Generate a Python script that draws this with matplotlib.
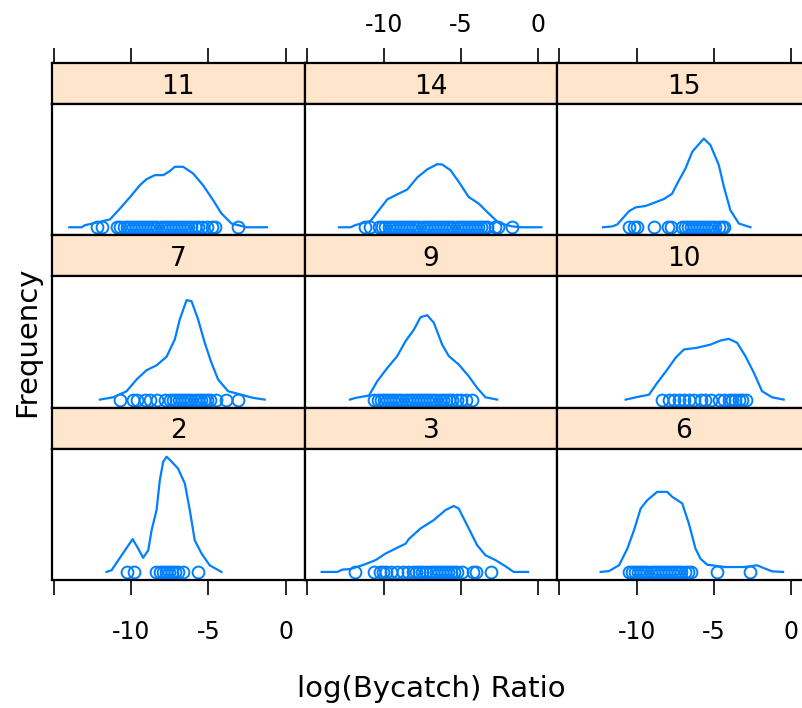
import matplotlib
matplotlib.use("Agg")
import matplotlib.pyplot as plt

# panel order: top row first (lattice draws bottom-up, so 2,3,6 sit at the bottom)
panel_names = ["11", "14", "15", "7", "9", "10", "2", "3", "6"]

# density curves
x_11 = [-14.01, -13.21, -13.0, -11.38, -10.73, -10.09, -9.44, -9.01, -8.47, -7.93, -7.5, -7.18, -6.64, -6.0, -5.35, -4.70, -4.16, -3.51, -2.54, -1.21]
d_11 = [0, 0, 0.007, 0.027, 0.065, 0.104, 0.146, 0.167, 0.181, 0.181, 0.195, 0.210, 0.210, 0.187, 0.146, 0.094, 0.048, 0.013, 0, 0]
x_14 = [-12.91, -12.16, -11.83, -10.86, -10.33, -9.78, -9.14, -8.49, -7.84, -7.20, -6.55, -6.23, -5.69, -5.16, -4.51, -3.86, -3.22, -2.57, -1.70, -1.06, 0.19]
d_14 = [0, 0, 0.008, 0.022, 0.059, 0.097, 0.114, 0.131, 0.173, 0.201, 0.219, 0.218, 0.198, 0.158, 0.105, 0.082, 0.048, 0.015, 0.003, 0, 0]
x_15 = [-12.18, -11.57, -11.25, -10.49, -10.07, -9.42, -8.77, -8.23, -7.70, -7.37, -6.84, -6.40, -6.08, -5.65, -5.22, -4.68, -4.35, -3.93, -3.38, -2.63]
d_15 = [0, 0.003, 0.010, 0.056, 0.069, 0.074, 0.087, 0.098, 0.117, 0.152, 0.204, 0.262, 0.282, 0.308, 0.285, 0.216, 0.140, 0.059, 0.013, 0]
x_7 = [-12.03, -11.17, -10.30, -9.65, -9.01, -8.36, -7.71, -7.18, -6.86, -6.42, -6.10, -5.67, -5.24, -4.81, -4.38, -3.73, -2.87, -2.12, -1.36]
d_7 = [0, 0.008, 0.029, 0.070, 0.102, 0.119, 0.149, 0.209, 0.278, 0.345, 0.342, 0.278, 0.197, 0.128, 0.070, 0.029, 0.017, 0.006, 0]
x_9 = [-12.2, -11.83, -10.97, -10.43, -9.78, -9.14, -8.60, -8.06, -7.63, -7.20, -6.77, -6.23, -5.80, -5.16, -4.51, -3.97, -3.43, -2.67]
d_9 = [0, 0.006, 0.014, 0.064, 0.110, 0.151, 0.203, 0.243, 0.286, 0.293, 0.267, 0.191, 0.151, 0.122, 0.081, 0.041, 0.008, 0]
x_10 = [-10.71, -9.96, -9.20, -8.67, -8.02, -7.48, -6.94, -6.08, -5.22, -4.57, -4.03, -3.49, -2.96, -2.41, -1.88, -1.23, -0.48]
d_10 = [0, 0.009, 0.017, 0.058, 0.104, 0.145, 0.174, 0.180, 0.191, 0.205, 0.211, 0.197, 0.151, 0.093, 0.029, 0.008, 0]
x_2 = [-11.6, -11.27, -10.62, -9.91, -9.55, -9.23, -8.90, -8.68, -8.36, -8.15, -7.93, -7.71, -7.39, -6.97, -6.53, -6.21, -5.89, -5.45, -4.92, -4.16]
d_2 = [0, 0.006, 0.058, 0.114, 0.081, 0.049, 0.075, 0.145, 0.215, 0.319, 0.383, 0.400, 0.383, 0.359, 0.307, 0.215, 0.110, 0.064, 0.023, 0]
x_3 = [-14.03, -13.02, -12.69, -12.16, -11.30, -10.54, -9.89, -9.25, -8.60, -8.39, -7.63, -6.77, -6.01, -5.48, -5.16, -4.51, -3.97, -3.43, -2.78, -2.14, -1.60, -0.67]
d_3 = [0, 0, 0.008, 0.010, 0.025, 0.041, 0.064, 0.081, 0.098, 0.114, 0.151, 0.180, 0.215, 0.229, 0.220, 0.151, 0.093, 0.058, 0.041, 0.020, 0, 0]
x_6 = [-12.33, -11.79, -11.14, -10.60, -10.17, -9.74, -9.31, -8.67, -8.02, -7.70, -7.05, -6.62, -6.19, -5.87, -5.43, -4.25, -3.06, -2.20, -1.66, -1.23, -0.52]
d_6 = [0, 0.003, 0.023, 0.081, 0.145, 0.220, 0.249, 0.278, 0.278, 0.261, 0.238, 0.168, 0.081, 0.046, 0.025, 0.017, 0.017, 0.023, 0.011, 0.002, 0]

# raw observations (rug of open circles)
pts_11 = [-12.2, -11.9, -10.9, -10.7, -10.5, -10.3, -10.1, -9.9, -9.7, -9.5, -9.3, -9.1, -8.9, -8.7, -8.5, -8.3, -8.1, -7.9, -7.7, -7.5, -7.3, -7.1, -6.9, -6.7, -6.5, -6.3, -6.1, -5.9, -5.7, -5.4, -5.1, -4.8, -4.6, -3.1]
pts_14 = [-11.2, -10.9, -10.3, -10.1, -9.9, -9.7, -9.5, -9.3, -9.1, -8.9, -8.7, -8.5, -8.3, -8.1, -7.9, -7.7, -7.5, -7.3, -7.1, -6.9, -6.7, -6.5, -6.3, -6.1, -5.9, -5.7, -5.5, -5.3, -5.1, -4.9, -4.7, -4.5, -4.3, -4.1, -3.9, -3.7, -3.5, -3.3, -2.8, -2.6, -1.7]
pts_15 = [-10.5, -10.2, -9.95, -8.9, -8.0, -7.8, -7.05, -6.9, -6.7, -6.5, -6.3, -6.1, -5.9, -5.7, -5.5, -5.3, -5.1, -4.9, -4.7, -4.5, -4.35]
pts_7 = [-10.7, -9.9, -9.65, -9.1, -8.8, -8.35, -7.8, -7.5, -7.3, -7.1, -6.9, -6.7, -6.5, -6.3, -6.1, -5.9, -5.7, -5.5, -5.3, -5.1, -4.9, -4.5, -3.85, -3.1]
pts_9 = [-10.65, -10.4, -10.2, -10.0, -9.8, -9.6, -9.4, -9.2, -9.0, -8.8, -8.6, -8.4, -8.2, -8.0, -7.8, -7.6, -7.4, -7.2, -7.0, -6.8, -6.6, -6.4, -6.2, -6.0, -5.8, -5.6, -5.3, -5.0, -4.7, -4.3]
pts_10 = [-8.35, -7.9, -7.6, -7.25, -6.95, -6.6, -6.3, -5.85, -5.55, -5.2, -4.7, -4.35, -4.05, -3.8, -3.6, -3.4, -3.15, -2.95]
pts_2 = [-10.3, -9.85, -8.4, -8.15, -7.95, -7.75, -7.55, -7.35, -7.15, -6.95, -6.65, -5.65]
pts_3 = [-11.85, -10.65, -10.25, -10.05, -9.85, -9.55, -9.15, -8.75, -8.45, -8.15, -7.95, -7.75, -7.55, -7.25, -7.05, -6.85, -6.65, -6.45, -6.25, -6.05, -5.85, -5.65, -5.45, -5.25, -4.95, -4.25, -4.05, -3.1]
pts_6 = [-10.5, -10.3, -10.1, -9.9, -9.7, -9.5, -9.3, -9.1, -8.9, -8.7, -8.5, -8.3, -8.1, -7.9, -7.7, -7.5, -7.3, -7.1, -6.9, -6.7, -6.5, -4.8, -2.65]

curves_x = [x_11, x_14, x_15, x_7, x_9, x_10, x_2, x_3, x_6]
curves_d = [d_11, d_14, d_15, d_7, d_9, d_10, d_2, d_3, d_6]
points = [pts_11, pts_14, pts_15, pts_7, pts_9, pts_10, pts_2, pts_3, pts_6]

tick_vals = [-15, -10, -5, 0]
tick_labels = ["", "-10", "-5", "0"]

blue = "#0080ff"
strip_col = "#ffe5cc"

W, H = 802, 708
fig = plt.figure(figsize=(W / 100, H / 100), dpi=100)

xlim = (-15.13, 1.23)
ymax = max(max(d) for d in curves_d)
ylim = (-0.07 * ymax, 1.07 * ymax)

top = 63
strip_h = 41
panel_h = 131.33
col_w = 252.7
left = 52

for i, name in enumerate(panel_names):
    r, c = divmod(i, 3)
    x0 = left + c * col_w
    y_strip = top + r * (strip_h + panel_h)
    y_panel = y_strip + strip_h

    sax = fig.add_axes([x0 / W, 1 - (y_strip + strip_h) / H, col_w / W, strip_h / H])
    sax.set_facecolor(strip_col)
    sax.set_xlim(xlim)
    sax.set_yticks([])
    sax.text(0.5, 0.42, name, ha="center", va="center", fontsize=19, transform=sax.transAxes)
    for sp in sax.spines.values():
        sp.set_linewidth(1.6)

    ax = fig.add_axes([x0 / W, 1 - (y_panel + panel_h) / H, col_w / W, panel_h / H])
    ax.plot(curves_x[i], curves_d[i], color=blue, lw=1.6)
    ax.plot(points[i], [0] * len(points[i]), "o", mfc="none", mec=blue, ms=8.5, mew=1.4)
    ax.set_xlim(xlim)
    ax.set_ylim(ylim)
    ax.set_yticks([])
    for sp in ax.spines.values():
        sp.set_linewidth(1.6)

    # ticks: top on first row strips, bottom on last row panels, labels alternate
    if r == 0:
        sax.set_xticks(tick_vals)
        sax.set_xticklabels(tick_labels if c == 1 else [""] * 4)
        sax.tick_params(axis="x", top=True, bottom=False, labeltop=True, labelbottom=False,
                        length=10.8, width=1.2, pad=8, labelsize=17)
    else:
        sax.set_xticks([])
    if r == 2:
        ax.set_xticks(tick_vals)
        ax.set_xticklabels(tick_labels if c != 1 else [""] * 4)
        ax.tick_params(axis="x", length=10.8, width=1.2, pad=18, labelsize=17)
    else:
        ax.set_xticks([])

fig.text(431 / W, 1 - 689 / H, "log(Bycatch) Ratio", ha="center", va="center", fontsize=21)
fig.text(27 / W, 1 - 342 / H, "Frequency", ha="center", va="center", rotation=90, fontsize=21)

fig.savefig("out.png", dpi=100)
